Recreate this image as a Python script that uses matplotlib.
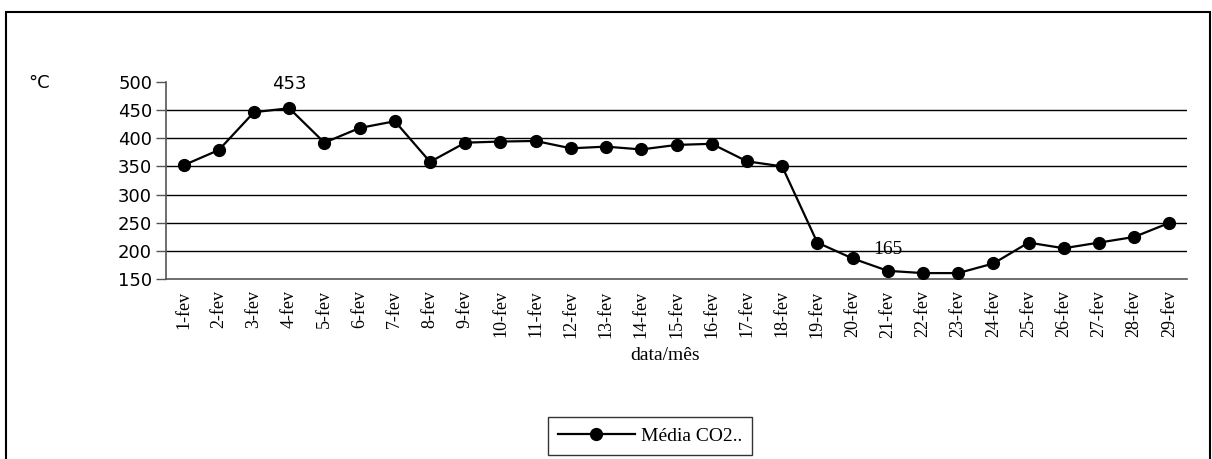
import numpy as np
import matplotlib.pyplot as plt
from matplotlib.patches import Rectangle

# dados: média diária de CO2 em fevereiro
dias = [f"{d}-fev" for d in range(1, 30)]
media_co2 = [352, 379, 446, 453, 392, 418, 430, 358, 392, 394,
             395, 382, 385, 380, 388, 390, 359, 350, 215, 187,
             165, 161, 161, 178, 215, 205, 215, 225, 250]
y_ticks = [150, 200, 250, 300, 350, 400, 450, 500]
rotulos = {3: "453", 20: "165"}

W, H = 1212, 459
fig = plt.figure(figsize=(W / 100, H / 100), dpi=100)
ax = fig.add_axes([166 / W, 1 - 279.3 / H, (1187 - 166) / W, (279.3 - 81.7) / H])

x = np.arange(len(dias))
ax.plot(x, media_co2, color="black", linewidth=1.6, marker="o",
        markersize=8.5, label="Média CO2..", zorder=3)

ax.set_xlim(-0.5, len(dias) - 0.5)
ax.set_ylim(150, 500)
ax.set_yticks(y_ticks)
ax.set_yticklabels([str(v) for v in y_ticks], fontsize=13, family="DejaVu Sans")
ax.set_xticks(x)
ax.set_xticklabels(dias, rotation=90, fontsize=13, family="Liberation Serif")
ax.tick_params(axis="x", length=0, pad=8)
ax.tick_params(axis="y", length=7, width=1, color="#555555", pad=3)

for v in y_ticks[1:-1]:
    ax.axhline(v, color="black", linewidth=1, zorder=1)

for s in ["top", "right"]:
    ax.spines[s].set_visible(False)
ax.spines["left"].set_color("#555555")
ax.spines["bottom"].set_color("#555555")
ax.spines["left"].set_linewidth(1.2)
ax.spines["bottom"].set_linewidth(1.2)

# rótulos de valores
ax.annotate(rotulos[3], (3, media_co2[3]), xytext=(0, 11), textcoords="offset points",
            ha="center", va="bottom", fontsize=13, family="DejaVu Sans")
ax.annotate(rotulos[20], (20, media_co2[20]), xytext=(0, 9), textcoords="offset points",
            ha="center", va="bottom", fontsize=14, family="Liberation Serif")

fig.text(28 / W, 1 - 83 / H, "°C", fontsize=13, family="DejaVu Sans", va="center")
fig.text(665 / W, 1 - 355 / H, "data/mês", fontsize=14, family="Liberation Serif",
         ha="center", va="center")

leg = fig.legend(loc="center", bbox_to_anchor=(650 / W, 1 - 436 / H),
                 prop={"family": "Liberation Serif", "size": 14},
                 frameon=True, fancybox=False, borderpad=0.5, handlelength=4,
                 handletextpad=0.3)
leg.get_frame().set_edgecolor("black")
leg.get_frame().set_linewidth(1)

# moldura do gráfico
fig.patches.append(Rectangle((6 / W, -0.05), (1210 - 6) / W, 1.05 - 12 / H,
                             transform=fig.transFigure, fill=False,
                             edgecolor="black", linewidth=1.5))

fig.savefig("out.png", dpi=100)
